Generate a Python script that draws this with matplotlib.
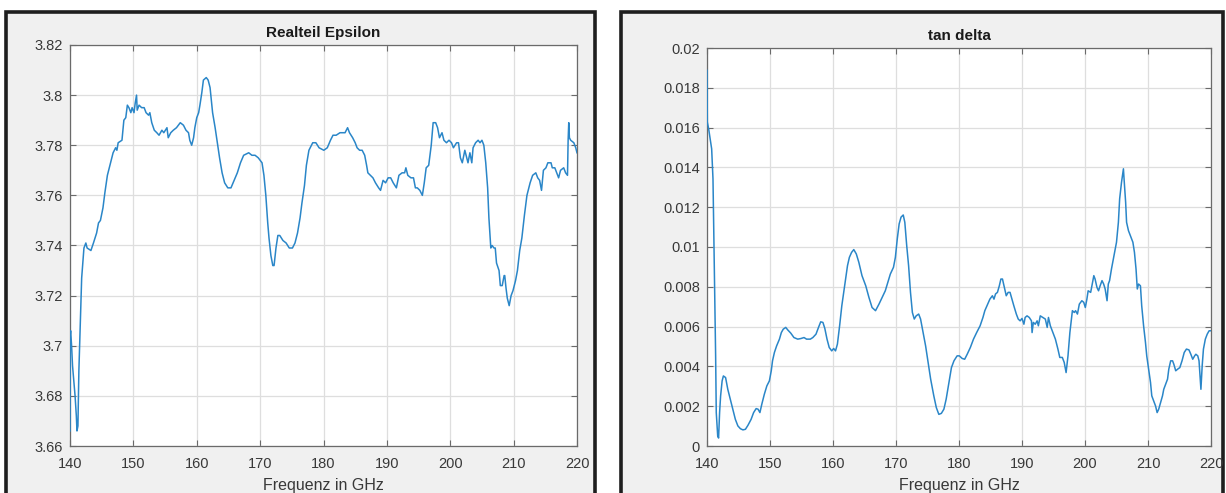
import matplotlib
matplotlib.use("Agg")
import matplotlib.pyplot as plt
from matplotlib.patches import Rectangle

plt.rcParams['font.family'] = ['Liberation Sans', 'DejaVu Sans']

# ---------------- data: Realteil Epsilon ----------------
eps_f = [140.0, 140.02, 140.1, 140.25, 140.4, 140.6, 140.8, 141.0, 141.1, 141.25, 141.4, 141.6, 141.84,
         142.1, 142.2, 142.5, 142.7, 143.3, 143.7, 144.2, 144.5, 144.8, 145.2, 145.5, 145.9, 146.4,
         146.8, 147.2, 147.4, 147.6, 148.2, 148.5, 148.8, 149.05, 149.3, 149.6, 149.8, 150.1, 150.3,
         150.5, 150.6, 150.9, 151.3, 151.7, 152.0, 152.4, 152.6, 152.9, 153.3, 153.7, 154.05, 154.5,
         154.8, 155.3, 155.5, 155.9, 156.3, 156.8, 157.4, 157.9, 158.3, 158.7, 158.9, 159.2, 159.5,
         159.7, 160.0, 160.3, 160.5, 160.8, 161.05, 161.5, 161.8, 162.1, 162.5, 162.9, 163.3, 163.6,
         164.0, 164.4, 164.9, 165.4, 165.9, 166.4, 166.9, 167.4, 168.2, 168.7, 169.2, 169.7, 170.3,
         170.6, 170.9, 171.2, 171.4, 171.7, 172.0, 172.2, 172.5, 172.8, 173.1, 173.6, 174.1, 174.6,
         175.1, 175.5, 175.9, 176.3, 176.6, 177.0, 177.3, 177.7, 178.3, 178.8, 179.3, 180.05, 180.6,
         181.1, 181.5, 182.0, 182.6, 183.1, 183.4, 183.8, 184.1, 184.6, 185.0, 185.3, 185.7, 186.1,
         186.5, 186.8, 187.0, 187.4, 187.8, 188.2, 188.7, 189.0, 189.4, 189.8, 190.2, 190.6, 191.0,
         191.5, 191.9, 192.4, 192.8, 193.0, 193.3, 193.8, 194.2, 194.5, 194.8, 195.2, 195.6, 195.9,
         196.2, 196.6, 197.0, 197.3, 197.7, 198.0, 198.3, 198.7, 199.0, 199.4, 199.8, 200.2, 200.5,
         201.0, 201.3, 201.6, 201.9, 202.3, 202.6, 202.8, 203.1, 203.4, 203.6, 204.0, 204.4, 204.7,
         205.0, 205.3, 205.6, 205.9, 206.1, 206.4, 206.6, 206.9, 207.1, 207.3, 207.7, 207.9, 208.2,
         208.5, 208.6, 208.8, 209.0, 209.3, 209.6, 209.9, 210.3, 210.6, 210.96, 211.3, 211.7, 212.1,
         212.6, 213.0, 213.5, 213.8, 214.1, 214.4, 214.7, 215.1, 215.4, 215.9, 216.1, 216.5, 216.8,
         217.1, 217.4, 217.9, 218.2, 218.5, 218.6, 218.7, 218.8, 219.0, 219.5, 219.8, 220.0]
eps_v = [3.666, 3.704, 3.706, 3.700, 3.692, 3.686, 3.680, 3.672, 3.666, 3.668, 3.690, 3.707, 3.727,
         3.736, 3.739, 3.741, 3.739, 3.738, 3.741, 3.745, 3.749, 3.750, 3.755, 3.761, 3.768, 3.773,
         3.777, 3.779, 3.778, 3.781, 3.782, 3.790, 3.791, 3.796, 3.795, 3.793, 3.795, 3.793, 3.797,
         3.800, 3.794, 3.796, 3.795, 3.795, 3.793, 3.792, 3.793, 3.789, 3.786, 3.785, 3.784, 3.786,
         3.785, 3.787, 3.783, 3.785, 3.786, 3.787, 3.789, 3.788, 3.786, 3.785, 3.782, 3.780, 3.783,
         3.787, 3.791, 3.793, 3.796, 3.801, 3.806, 3.807, 3.806, 3.803, 3.793, 3.787, 3.780, 3.775,
         3.769, 3.765, 3.763, 3.763, 3.766, 3.769, 3.773, 3.776, 3.777, 3.776, 3.776, 3.775, 3.773,
         3.768, 3.760, 3.749, 3.743, 3.736, 3.732, 3.732, 3.739, 3.744, 3.744, 3.742, 3.741, 3.739,
         3.739, 3.741, 3.745, 3.751, 3.757, 3.764, 3.772, 3.778, 3.781, 3.781, 3.779, 3.778, 3.779,
         3.782, 3.784, 3.784, 3.785, 3.785, 3.785, 3.787, 3.785, 3.783, 3.781, 3.779, 3.778, 3.778,
         3.776, 3.772, 3.769, 3.768, 3.767, 3.765, 3.763, 3.762, 3.766, 3.765, 3.767, 3.767, 3.765,
         3.763, 3.768, 3.769, 3.769, 3.771, 3.768, 3.767, 3.767, 3.763, 3.763, 3.762, 3.760, 3.765,
         3.771, 3.772, 3.780, 3.789, 3.789, 3.787, 3.783, 3.785, 3.782, 3.781, 3.782, 3.781, 3.779,
         3.781, 3.781, 3.775, 3.773, 3.778, 3.775, 3.773, 3.777, 3.773, 3.779, 3.781, 3.782, 3.781,
         3.782, 3.780, 3.773, 3.763, 3.751, 3.739, 3.740, 3.739, 3.739, 3.733, 3.730, 3.724, 3.724,
         3.728, 3.728, 3.723, 3.719, 3.716, 3.720, 3.722, 3.726, 3.730, 3.738, 3.743, 3.752, 3.760,
         3.765, 3.768, 3.769, 3.767, 3.766, 3.762, 3.770, 3.771, 3.773, 3.773, 3.771, 3.771, 3.769,
         3.767, 3.770, 3.771, 3.769, 3.768, 3.782, 3.789, 3.783, 3.782, 3.781, 3.779, 3.777]

# ---------------- data: tan delta ----------------
tan_f = [140.0, 140.05, 140.26, 140.5, 140.74, 140.95, 141.05, 141.2, 141.37, 141.47, 141.7, 141.84,
         142.0, 142.16, 142.4, 142.6, 142.95, 143.3, 143.7, 144.1, 144.5, 144.9, 145.3, 145.7, 146.1,
         146.5, 147.0, 147.4, 147.8, 148.1, 148.4, 148.7, 149.1, 149.5, 149.9, 150.2, 150.4, 150.7,
         151.05, 151.5, 151.8, 152.1, 152.5, 152.8, 153.3, 153.8, 154.4, 154.9, 155.4, 155.8, 156.4,
         156.8, 157.3, 157.7, 158.05, 158.4, 158.7, 159.05, 159.4, 159.8, 160.1, 160.4, 160.7, 161.05,
         161.4, 161.7, 162.0, 162.3, 162.6, 162.95, 163.3, 163.7, 164.1, 164.6, 165.2, 165.7, 166.2,
         166.75, 167.3, 167.8, 168.3, 168.7, 169.1, 169.6, 169.9, 170.2, 170.5, 170.8, 171.15, 171.4,
         171.7, 172.0, 172.3, 172.6, 172.9, 173.2, 173.6, 173.9, 174.3, 174.7, 175.1, 175.5, 176.0,
         176.4, 176.8, 177.2, 177.6, 177.96, 178.4, 178.8, 179.2, 179.7, 180.05, 180.5, 180.9, 181.3,
         181.8, 182.3, 182.8, 183.35, 183.8, 184.1, 184.55, 184.9, 185.3, 185.55, 185.8, 186.1, 186.4,
         186.65, 186.9, 187.2, 187.5, 187.8, 188.1, 188.4, 188.7, 189.1, 189.4, 189.7, 190.0, 190.3,
         190.5, 190.8, 191.15, 191.5, 191.6, 191.8, 192.1, 192.4, 192.6, 192.9, 193.3, 193.7, 194.0,
         194.2, 194.5, 194.9, 195.3, 195.7, 196.0, 196.4, 196.7, 197.0, 197.3, 197.6, 198.0, 198.3,
         198.5, 198.8, 199.1, 199.5, 199.8, 200.05, 200.3, 200.5, 200.9, 201.1, 201.4, 201.6, 201.9,
         202.15, 202.4, 202.7, 202.96, 203.2, 203.5, 203.7, 203.9, 204.2, 204.5, 204.7, 205.0, 205.3,
         205.5, 205.8, 206.1, 206.2, 206.45, 206.6, 206.9, 207.3, 207.6, 207.85, 208.1, 208.3, 208.5,
         208.8, 209.0, 209.3, 209.6, 209.8, 210.1, 210.4, 210.6, 210.9, 211.2, 211.45, 211.7, 212.0,
         212.3, 212.5, 212.8, 213.1, 213.3, 213.6, 213.9, 214.1, 214.4, 214.7, 215.05, 215.4, 215.75,
         216.1, 216.5, 216.8, 217.1, 217.4, 217.6, 217.9, 218.1, 218.3, 218.4, 218.6, 218.8, 219.1,
         219.4, 219.7, 220.0]
tan_v = [0.01888, 0.01628, 0.01594, 0.01544, 0.01493, 0.01342, 0.01124, 0.00805, 0.00453, 0.00168,
         0.00050, 0.00040, 0.00168, 0.00252, 0.00327, 0.00352, 0.00344, 0.00285, 0.00235, 0.00185,
         0.00134, 0.00101, 0.00087, 0.00081, 0.00084, 0.00104, 0.00134, 0.00168, 0.00188, 0.00185,
         0.00168, 0.00210, 0.00260, 0.00302, 0.00327, 0.00378, 0.00428, 0.00470, 0.00503, 0.00537,
         0.00570, 0.00587, 0.00596, 0.00584, 0.00567, 0.00545, 0.00537, 0.00540, 0.00545, 0.00537,
         0.00537, 0.00545, 0.00562, 0.00596, 0.00624, 0.00621, 0.00591, 0.00537, 0.00495, 0.00478,
         0.00490, 0.00478, 0.00512, 0.00604, 0.00705, 0.00772, 0.00839, 0.00906, 0.00948, 0.00973,
         0.00987, 0.00965, 0.00923, 0.00856, 0.00805, 0.00747, 0.00696, 0.00680, 0.00713, 0.00747,
         0.00780, 0.00822, 0.00864, 0.00898, 0.00948, 0.01040, 0.01116, 0.01150, 0.01161, 0.01124,
         0.01007, 0.00906, 0.00772, 0.00671, 0.00638, 0.00654, 0.00663, 0.00638, 0.00570, 0.00503,
         0.00420, 0.00336, 0.00252, 0.00193, 0.00159, 0.00164, 0.00185, 0.00235, 0.00319, 0.00394,
         0.00428, 0.00453, 0.00453, 0.00440, 0.00436, 0.00461, 0.00495, 0.00537, 0.00570, 0.00604,
         0.00646, 0.00680, 0.00713, 0.00738, 0.00755, 0.00738, 0.00764, 0.00772, 0.00805, 0.00839,
         0.00839, 0.00797, 0.00755, 0.00772, 0.00772, 0.00738, 0.00705, 0.00663, 0.00638, 0.00629,
         0.00641, 0.00612, 0.00646, 0.00654, 0.00646, 0.00629, 0.00570, 0.00621, 0.00612, 0.00629,
         0.00604, 0.00654, 0.00646, 0.00638, 0.00596, 0.00646, 0.00604, 0.00570, 0.00537, 0.00487,
         0.00445, 0.00445, 0.00420, 0.00369, 0.00453, 0.00570, 0.00680, 0.00671, 0.00680, 0.00663,
         0.00713, 0.00730, 0.00722, 0.00696, 0.00738, 0.00780, 0.00772, 0.00805, 0.00856, 0.00839,
         0.00797, 0.00780, 0.00805, 0.00831, 0.00814, 0.00789, 0.00730, 0.00814, 0.00831, 0.00889,
         0.00940, 0.00973, 0.01024, 0.01124, 0.01242, 0.01326, 0.01393, 0.01342, 0.01225, 0.01124,
         0.01082, 0.01049, 0.01024, 0.00973, 0.00889, 0.00789, 0.00814, 0.00805, 0.00705, 0.00604,
         0.00520, 0.00453, 0.00386, 0.00319, 0.00252, 0.00227, 0.00201, 0.00168, 0.00185, 0.00218,
         0.00252, 0.00285, 0.00310, 0.00336, 0.00386, 0.00428, 0.00428, 0.00411, 0.00378, 0.00386,
         0.00394, 0.00428, 0.00470, 0.00487, 0.00483, 0.00461, 0.00436, 0.00453, 0.00461, 0.00453,
         0.00428, 0.00336, 0.00285, 0.00403, 0.00487, 0.00537, 0.00562, 0.00579, 0.00579]

x_ticks = [140, 150, 160, 170, 180, 190, 200, 210, 220]
eps_ticks = [3.66, 3.68, 3.70, 3.72, 3.74, 3.76, 3.78, 3.80, 3.82]
eps_labels = ['3.66', '3.68', '3.7', '3.72', '3.74', '3.76', '3.78', '3.8', '3.82']
tan_ticks = [0, 0.002, 0.004, 0.006, 0.008, 0.010, 0.012, 0.014, 0.016, 0.018, 0.020]
tan_labels = ['0', '0.002', '0.004', '0.006', '0.008', '0.01', '0.012', '0.014', '0.016', '0.018', '0.02']

W, H = 1226, 493
fig = plt.figure(figsize=(W / 100, H / 100), dpi=100)
fig.patch.set_facecolor('white')

# panel frames (figure windows)
def frame(x0, x1, y_top):
    r = Rectangle((x0 / W, -0.1), (x1 - x0) / W, (H - y_top) / H + 0.1,
                  transform=fig.transFigure, facecolor='#f0f0f0',
                  edgecolor='#1e1e1e', linewidth=2.6, zorder=-10)
    fig.patches.append(r)

frame(6, 595, 12)
frame(621, 1223, 12)

LINE = '#2a86c8'
TXT = '#383838'
SPINE = '#6a6a6a'


def style(ax, yt, yl, ylim, title):
    ax.set_facecolor('white')
    ax.set_xlim(140, 220)
    ax.set_ylim(*ylim)
    ax.set_xticks(x_ticks)
    ax.set_xticklabels([str(t) for t in x_ticks])
    ax.set_yticks(yt)
    ax.set_yticklabels(yl)
    ax.grid(True, color='#dedede', linewidth=0.9)
    ax.set_axisbelow(True)
    ax.tick_params(direction='in', length=4, width=0.8, colors=SPINE,
                   labelcolor=TXT, labelsize=10.5, top=True, right=True, pad=5)
    ax.tick_params(axis='x', pad=8)
    for s in ax.spines.values():
        s.set_color(SPINE)
        s.set_linewidth(0.9)
    ax.set_title(title, fontsize=11, fontweight='bold', color='#1a1a1a', pad=6)
    ax.set_xlabel('Frequenz in GHz', fontsize=11.5, color=TXT, labelpad=5)


ax1 = fig.add_axes([70 / W, 1 - 446 / H, (577 - 70) / W, (446 - 45) / H])
ax1.set_zorder(5)
ax1.plot(eps_f, eps_v, color=LINE, linewidth=1.1, zorder=3)
style(ax1, eps_ticks, eps_labels, (3.66, 3.82), 'Realteil Epsilon')

ax2 = fig.add_axes([707 / W, 1 - 446 / H, (1211 - 707) / W, (446 - 48) / H])
ax2.set_zorder(5)
ax2.plot(tan_f, tan_v, color=LINE, linewidth=1.1, zorder=3)
style(ax2, tan_ticks, tan_labels, (0, 0.02), 'tan delta')

fig.savefig('out.png', dpi=100, facecolor='white')
